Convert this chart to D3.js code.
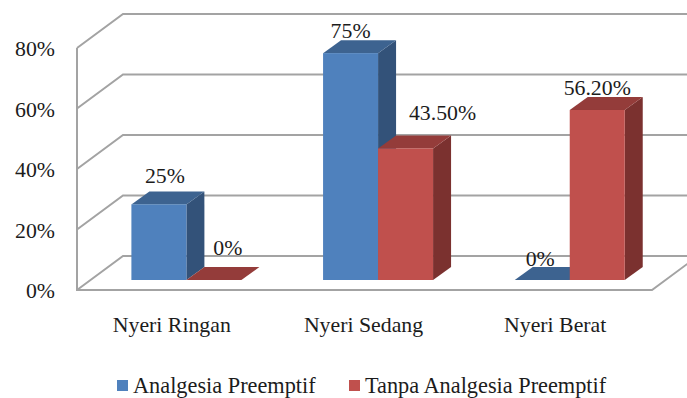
<!DOCTYPE html>
<html>
<head>
<meta charset="utf-8">
<script src="https://cdn.jsdelivr.net/npm/d3@7"></script>
<style>
html,body{margin:0;padding:0;background:#fff;overflow:hidden}
text{font-family:"Liberation Serif",serif;fill:#1c1c1c}
</style>
</head>
<body>
<svg id="chart" width="687" height="398"></svg>
<script>
// Chart data
const categories = ["Nyeri Ringan", "Nyeri Sedang", "Nyeri Berat"];
const seriesNames = ["Analgesia Preemptif", "Tanpa Analgesia Preemptif"];
const analgesia = [25, 75, 0];
const tanpa = [0, 43.5, 56.2];
const analgesiaLabels = ["25%", "75%", "0%"];
const tanpaLabels = ["0%", "43.50%", "56.20%"];
const yTicks = [0, 20, 40, 60, 80];

// Hand-placed data label offsets from the bar's front-top centre
const analgesiaNudge = [[6, -21], [0, -15], [-2, -14]];
const tanpaNudge = [[14, -25], [37, -28], [0, -15]];

const faces = [
  {front: "#4f81bd", top: "#3d6390", side: "#335279"},
  {front: "#c0504d", top: "#943c3a", side: "#7b312f"}
];

const svg = d3.select("#chart");
const fontSize = 21.8;
const legendFontSize = 22.3;

const x = d3.scaleBand().domain(categories).range([77, 652]);
const y = d3.scaleLinear().domain([0, 80]).range([290, 48]);

// Oblique projection of the 3D box
const wall = {dx: 46, dy: -34};
const bar = {width: 55, dx: 18, dy: -13, lift: 10, inset: 54.4};

const poly = pts => "M" + pts.map(p => p.join(",")).join("L") + "Z";

// Gridlines on the back wall and side wall
const grid = svg.append("g").attr("fill", "none").attr("stroke", "#a3a3a3").attr("stroke-width", 2);
yTicks.forEach(t => {
  const yy = y(t);
  grid.append("path").attr("d", d3.line()([
    [x.range()[0], yy],
    [x.range()[0] + wall.dx, yy + wall.dy],
    [720, yy + wall.dy]
  ]));
});
// Front edges of the floor and the left wall
grid.append("path").attr("d", d3.line()([
  [x.range()[0], y(80)], [x.range()[0], y(0)], [x.range()[1], y(0)],
  [x.range()[1] + wall.dx, y(0) + wall.dy]
]));

// Value axis labels
svg.append("g").selectAll("text").data(yTicks).join("text")
  .attr("x", 55).attr("y", d => y(d) + 8)
  .attr("text-anchor", "end").attr("font-size", fontSize)
  .text(d => d + "%");

// Category labels
svg.append("g").selectAll("text").data(categories).join("text")
  .attr("x", d => x(d) + x.bandwidth() / 2 - 1).attr("y", 332)
  .attr("text-anchor", "middle").attr("font-size", fontSize)
  .text(d => d);

// Bars: blue first so the red column sits in front of it
const rows = [analgesia, tanpa];
const barsLayer = svg.append("g");
categories.forEach((c, i) => {
  rows.forEach((vals, s) => {
    const x0 = x(c) + bar.inset + s * bar.width;
    const x1 = x0 + bar.width;
    const base = y(0) - bar.lift;
    const top = base - (y(0) - y(vals[i]));
    const f = faces[s];
    const g = barsLayer.append("g");
    g.append("path").attr("fill", f.side).attr("d", poly([
      [x1, top], [x1 + bar.dx, top + bar.dy], [x1 + bar.dx, base + bar.dy], [x1, base]
    ]));
    g.append("path").attr("fill", f.top).attr("d", poly([
      [x0, top], [x0 + bar.dx, top + bar.dy], [x1 + bar.dx, top + bar.dy], [x1, top]
    ]));
    g.append("rect").attr("fill", f.front)
      .attr("x", x0).attr("y", top).attr("width", bar.width).attr("height", base - top);
  });
});

// Data labels
const labelSets = [[analgesiaLabels, analgesiaNudge], [tanpaLabels, tanpaNudge]];
const labelLayer = svg.append("g");
categories.forEach((c, i) => {
  labelSets.forEach(([texts, nudge], s) => {
    const cx = x(c) + bar.inset + s * bar.width + bar.width / 2;
    const top = y(rows[s][i]) - bar.lift;
    labelLayer.append("text")
      .attr("x", cx + nudge[i][0]).attr("y", top + nudge[i][1])
      .attr("text-anchor", "middle").attr("font-size", fontSize)
      .text(texts[i]);
  });
});

// Legend
const legendX = [117, 349];
const legend = svg.append("g").selectAll("g").data(seriesNames).join("g")
  .attr("transform", (d, i) => `translate(${legendX[i]},0)`);
legend.append("rect").attr("y", 380).attr("width", 11).attr("height", 11)
  .attr("fill", (d, i) => faces[i].front);
legend.append("text").attr("x", 16).attr("y", 393)
  .attr("font-size", legendFontSize).text(d => d);
</script>
</body>
</html>
